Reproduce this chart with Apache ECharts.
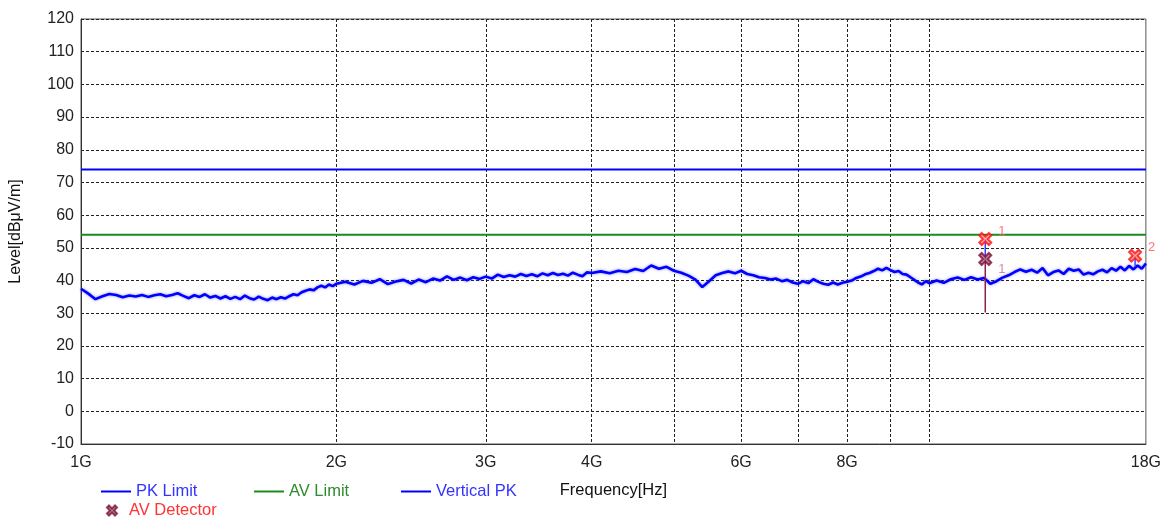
<!DOCTYPE html>
<html>
<head>
<meta charset="utf-8">
<script src="https://cdn.jsdelivr.net/npm/echarts@6/dist/echarts.min.js"></script>
<style>html,body{margin:0;padding:0;background:#fff}#c{width:1164px;height:518px}</style>
</head>
<body>
<div id="c"></div>
<script>
// Frequencies in GHz
const freqs = [
 1.00,1.02,1.04,1.06,1.08,1.10,1.12,1.14,1.16,1.18,1.20,1.22,1.24,1.26,1.28,1.30,1.32,1.34,1.36,1.38,
 1.40,1.42,1.44,1.46,1.48,1.50,1.52,1.54,1.56,1.58,1.60,1.62,1.64,1.66,1.68,1.70,1.72,1.74,1.76,1.78,
 1.80,1.82,1.84,1.86,1.88,1.90,1.92,1.94,1.96,1.98,2.00,
 2.05,2.10,2.15,2.20,2.25,2.30,2.35,2.40,2.45,2.50,2.55,2.60,2.65,2.70,2.75,2.80,2.85,2.90,2.95,3.00,
 3.05,3.10,3.15,3.20,3.25,3.30,3.35,3.40,3.45,3.50,3.55,3.60,3.65,3.70,3.75,3.80,3.85,3.90,3.95,4.00,
 4.1,4.2,4.3,4.4,4.5,4.6,4.7,4.8,4.9,5.0,5.1,5.2,5.3,5.4,5.5,5.6,5.7,5.8,5.9,6.0,
 6.1,6.2,6.3,6.4,6.5,6.6,6.7,6.8,6.9,7.0,7.1,7.2,7.3,7.4,7.5,7.6,7.7,7.8,7.9,8.0,
 8.1,8.2,8.3,8.4,8.5,8.6,8.7,8.8,8.9,9.0,9.1,9.2,9.3,9.4,9.5,9.6,9.7,9.8,9.9,10.0,
 10.2,10.4,10.6,10.8,11.0,11.2,11.4,11.6,11.8,12.0,12.2,12.4,12.6,12.8,13.0,13.2,13.4,13.6,13.8,14.0,
 14.2,14.4,14.6,14.8,15.0,15.2,15.4,15.6,15.8,16.0,16.2,16.4,16.6,16.8,17.0,17.2,17.4,17.6,17.8,18.0
];
// Vertical PK trace, dBuV/m
const verticalPK = [
 37.5,36.0,34.3,35.2,35.9,35.6,34.9,35.4,35.1,35.6,35.0,35.5,35.8,35.2,35.6,36.1,35.3,34.6,35.5,35.0,
 35.8,34.8,35.3,34.5,35.2,34.4,35.0,34.3,35.4,34.6,34.2,35.1,34.4,34.0,34.8,34.3,34.9,34.5,35.2,35.8,
 35.5,36.4,36.9,37.3,37.0,37.9,38.4,37.9,38.8,38.3,39.0,
 39.6,38.8,39.9,39.3,40.4,38.9,39.7,40.2,39.1,40.3,39.5,40.6,40.0,41.3,40.2,40.9,40.1,41.0,40.5,41.2,
 40.6,41.8,41.1,41.6,41.2,42.0,41.4,41.9,41.3,42.2,41.6,42.3,41.7,42.1,41.5,42.4,41.8,41.3,42.5,42.3,
 42.8,42.2,43.0,42.6,43.5,42.9,44.6,43.6,44.2,43.0,42.4,41.5,40.3,38.0,39.8,41.6,42.3,42.8,42.2,43.0,
 42.0,41.6,41.0,40.8,40.3,40.6,39.8,40.2,39.4,39.0,39.8,39.2,40.4,39.6,39.0,38.7,39.4,38.8,39.3,39.6,
 40.0,40.8,41.2,41.9,42.3,42.9,43.6,43.1,43.9,43.2,42.6,42.9,42.0,41.8,41.0,40.2,39.4,38.8,39.8,39.2,
 40.0,39.3,40.4,40.9,40.2,41.0,40.3,40.8,39.0,39.8,40.9,41.6,42.6,43.4,42.7,43.3,42.4,43.8,41.6,42.6,
 43.1,42.0,43.6,43.0,43.4,41.8,42.4,41.9,42.8,43.3,42.5,43.8,43.0,44.2,43.1,44.5,43.4,44.6,43.6,45.2
];
const pkLimit = [[1, 74], [18, 74]];
const avLimit = [[1, 54], [18, 54]];
const pkMarkers = [[11.64, 52.7, '1'], [17.48, 47.6, '2']];
const avDetector = [[11.64, 46.6, '1']];
const avDropLine = [[11.64, 46.6], [11.64, 30.2]];
const pkDrop1 = [[11.64, 52.7], [11.64, 46.6]];
const pkDrop2 = [[17.48, 47.6], [17.48, 44.3]];
const xTickValues = [2, 3, 4, 5, 6, 7, 8, 9, 10];
const xLabelValues = [1, 2, 3, 4, 6, 8, 18];

const FONT = '"Liberation Sans", Arial, sans-serif';
const X_PATH = 'path://M2,0 L5,3 L8,0 L10,2 L7,5 L10,8 L8,10 L5,7 L2,10 L0,8 L3,5 L0,2 Z';

const chart = echarts.init(document.getElementById('c'), null, {renderer: 'canvas'});
const legendBase = {
  orient: 'horizontal', top: 478, itemWidth: 30, itemHeight: 2, itemGap: 5, icon: 'rect',
  textStyle: {fontFamily: FONT, fontSize: 16.5}, selectedMode: false
};
chart.setOption({
  animation: false,
  backgroundColor: '#fff',
  textStyle: {fontFamily: FONT},
  grid: {left: 80, right: 17, top: 19, bottom: 74, show: true, borderColor: '#555', borderWidth: 1, backgroundColor: 'transparent'},
  legend: [
    Object.assign({}, legendBase, {left: 96, data: [{name: 'PK Limit', textStyle: {color: '#3333ff'}}]}),
    Object.assign({}, legendBase, {left: 249, data: [{name: 'AV Limit', textStyle: {color: '#2e8b2e'}}]}),
    Object.assign({}, legendBase, {left: 396, data: [{name: 'Vertical PK', textStyle: {color: '#3333ff'}}]}),
    Object.assign({}, legendBase, {left: 101, top: 497, itemWidth: 24, itemHeight: 10, icon: X_PATH, data: [{name: 'AV Detector', textStyle: {color: '#ff3333'}}]})
  ],
  xAxis: {
    type: 'log', logBase: 10, min: 1, max: 18,
    name: 'Frequency[Hz]', nameLocation: 'middle', nameGap: 38,
    nameTextStyle: {color: '#111', fontSize: 16.5, fontFamily: FONT},
    axisLine: {show: true, onZero: false, lineStyle: {color: '#333', width: 1}},
    axisTick: {show: false, customValues: xTickValues},
    axisLabel: {customValues: xLabelValues, color: '#222', fontSize: 16, fontFamily: FONT, margin: 11,
      formatter: v => Math.round(v) + 'G'},
    splitLine: {show: true, lineStyle: {color: '#222', type: [3, 2], width: 1}},
    minorSplitLine: {show: false}
  },
  yAxis: {
    type: 'value', min: -10, max: 120, interval: 10,
    name: 'Level[dBμV/m]', nameLocation: 'middle', nameGap: 57, nameRotate: 90,
    nameTextStyle: {color: '#111', fontSize: 16, fontFamily: FONT},
    axisLine: {show: true, lineStyle: {color: '#333', width: 1}},
    axisTick: {show: false},
    axisLabel: {color: '#222', fontSize: 16, fontFamily: FONT, margin: 7},
    splitLine: {show: true, lineStyle: {color: '#222', type: [3, 2], width: 1}}
  },
  series: [
    {name: 'PK Limit', type: 'line', data: pkLimit, symbol: 'none', lineStyle: {color: '#0000ff', width: 2}, itemStyle: {color: '#0000ff'}, z: 3},
    {name: 'AV Limit', type: 'line', data: avLimit, symbol: 'none', lineStyle: {color: '#1a8a1a', width: 2}, itemStyle: {color: '#1a8a1a'}, z: 3},
    {name: 'Vertical PK', type: 'line', data: freqs.map((f, i) => [f, verticalPK[i]]), symbol: 'none',
      lineStyle: {color: '#0000ff', width: 2.6, shadowColor: 'rgba(70,70,255,0.6)', shadowBlur: 3}, itemStyle: {color: '#0000ff'}, z: 4},
    {type: 'line', data: avDropLine, symbol: 'none', lineStyle: {color: '#8b2050', width: 1.5}, z: 5, silent: true},
    {type: 'line', data: pkDrop1, symbol: 'none', lineStyle: {color: '#3344ff', width: 1.5}, z: 5, silent: true},
    {type: 'line', data: pkDrop2, symbol: 'none', lineStyle: {color: '#3344ff', width: 1.5}, z: 5, silent: true},
    {name: 'AV Detector', type: 'scatter', data: avDetector, symbol: X_PATH, symbolSize: 12,
      itemStyle: {color: '#b06080', borderColor: '#7a1038', borderWidth: 2},
      label: {show: true, formatter: p => p.data[2], position: 'right', offset: [1, 10], color: '#c97090', fontSize: 13, fontFamily: FONT}, z: 6},
    {name: 'PK Detector', type: 'scatter', data: pkMarkers, symbol: X_PATH, symbolSize: 12,
      itemStyle: {color: '#ff9090', borderColor: '#ff1010', borderWidth: 2},
      label: {show: true, formatter: p => p.data[2], position: 'right', offset: [1, -8], color: '#ff5050', fontSize: 13, fontFamily: FONT}, z: 6}
  ]
});
</script>
</body>
</html>
